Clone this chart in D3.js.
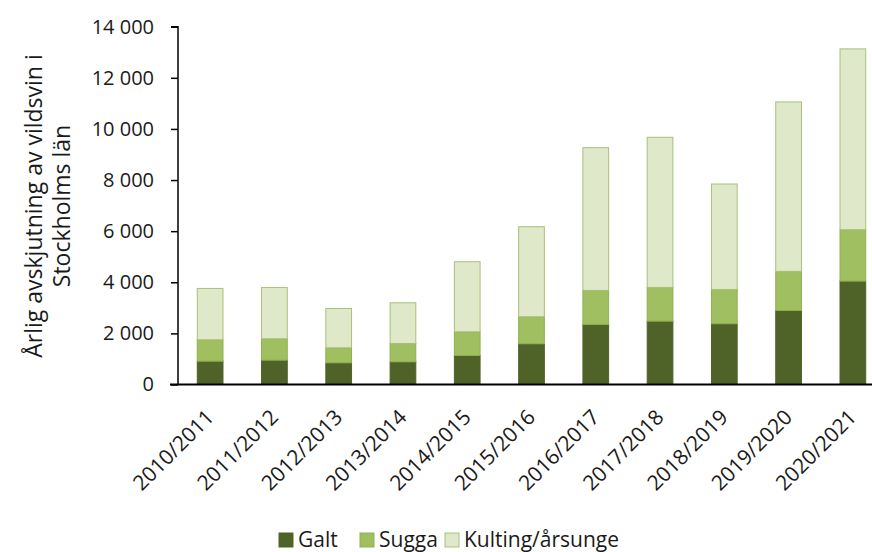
<!DOCTYPE html>
<html>
<head>
<meta charset="utf-8">
<script src="https://cdn.jsdelivr.net/npm/d3@7"></script>
<style>
  html, body { margin: 0; padding: 0; background: #fff; }
  svg { display: block; }
  text { font-family: "Open Sans", sans-serif; fill: #1a1a1a; }
</style>
</head>
<body>
<svg id="chart" width="872" height="552"></svg>
<script>
const categories = ["2010/2011","2011/2012","2012/2013","2013/2014","2014/2015","2015/2016","2016/2017","2017/2018","2018/2019","2019/2020","2020/2021"];
const seriesNames = ["Galt","Sugga","Kulting/årsunge"];
const galt    = [913, 953, 849, 888, 1136, 1593, 2350, 2480, 2376, 2898, 4046];
const sugga   = [837, 836, 587, 717, 926, 1057, 1331, 1318, 1344, 1527, 2011];
const kulting = [2009, 2009, 1540, 1593, 2742, 3524, 5587, 5875, 4125, 6631, 7075];
const yTicks  = [0, 2000, 4000, 6000, 8000, 10000, 12000, 14000];
const colors  = ["#4f6228", "#a0bf60", "#dfe8c9"];
const strokes = ["#4f6228", "#8fb04d", "#a9c07a"];

const rows = categories.map((c, i) => ({cat: c, Galt: galt[i], Sugga: sugga[i], "Kulting/årsunge": kulting[i]}));
const stacked = d3.stack().keys(seriesNames)(rows);

const svg = d3.select("#chart");
const x0 = 178, x1 = 885, yBase = 384.5, yTop = 26.7;
const x = d3.scaleBand().domain(categories).range([x0, x1]).paddingInner(0.6).paddingOuter(0.3);
const y = d3.scaleLinear().domain([0, 14000]).range([yBase, yTop]);

const fmt = v => d3.format(",")(v).replace(/,/g, "\u00a0");

// bars
svg.append("g").selectAll("g").data(stacked).join("g")
  .attr("fill", (d, i) => colors[i])
  .attr("stroke", (d, i) => strokes[i])
  .attr("stroke-width", 1)
  .selectAll("rect").data(d => d).join("rect")
  .attr("x", d => x(d.data.cat))
  .attr("width", x.bandwidth())
  .attr("y", d => y(d[1]))
  .attr("height", d => y(d[0]) - y(d[1]));

// y axis
const yAxis = d3.axisLeft(y).tickValues(yTicks).tickFormat(fmt).tickSize(7).tickPadding(17);
const gy = svg.append("g").attr("transform", `translate(${x0},0)`).call(yAxis);
gy.select(".domain").attr("stroke", "#000").attr("stroke-width", 1.5).attr("d", `M-7,${yTop}H0V${yBase}`);
gy.selectAll(".tick line").attr("stroke", "#000").attr("stroke-width", 1.5);
gy.selectAll(".tick text").attr("font-size", 20).attr("font-family", "Open Sans, sans-serif").attr("fill", "#1a1a1a");

// x axis
const xAxis = d3.axisBottom(x).tickSize(0).tickPadding(0);
const gx = svg.append("g").attr("transform", `translate(0,${yBase})`).call(xAxis);
gx.select(".domain").attr("stroke", "#000").attr("stroke-width", 2).attr("d", `M${x0 - 8},0H872`);
gx.selectAll(".tick text")
  .attr("font-size", 21)
  .attr("font-family", "Open Sans, sans-serif")
  .attr("fill", "#1a1a1a")
  .attr("text-anchor", "end")
  .attr("dy", 0)
  .attr("transform", "translate(5,34) rotate(-45)");

// y title
const title = svg.append("text")
  .attr("transform", "translate(0,206) rotate(-90)")
  .attr("text-anchor", "middle")
  .attr("font-size", 23);
title.append("tspan").attr("x", 0).attr("y", 42).text("Årlig avskjutning av vildsvin i");
title.append("tspan").attr("x", 0).attr("y", 70).text("Stockholms län");

// legend
const legendX = [279, 360, 445];
const lg = svg.append("g").selectAll("g").data(seriesNames).join("g")
  .attr("transform", (d, i) => `translate(${legendX[i]},533)`);
lg.append("rect").attr("width", 14).attr("height", 14)
  .attr("fill", (d, i) => colors[i]).attr("stroke", (d, i) => strokes[i]);
lg.append("text").attr("x", 19).attr("y", 14).attr("font-size", 21).text(d => d);
</script>
</body>
</html>
